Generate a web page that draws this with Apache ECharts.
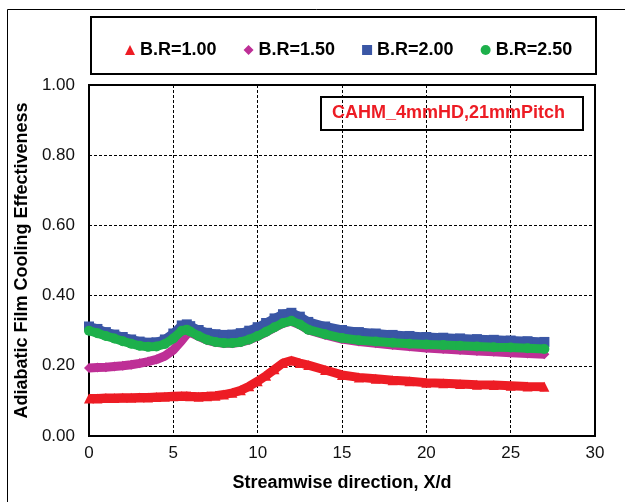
<!DOCTYPE html>
<html>
<head>
<meta charset="utf-8">
<script src="https://cdn.jsdelivr.net/npm/echarts@6/dist/echarts.min.js"></script>
<style>
  html, body { margin: 0; padding: 0; background: #fff; }
  #chart { width: 625px; height: 502px; }
</style>
</head>
<body>
<div id="chart"></div>
<script>
// Streamwise positions X/d where effectiveness is sampled
const xd = [0, 0.5, 1, 1.5, 2, 2.5, 3, 3.5, 4, 4.5, 5, 5.5, 5.8, 6, 6.5, 7, 7.5, 8, 8.5, 9, 9.5,
  10, 10.5, 11, 11.5, 12, 12.5, 13, 14, 15, 16, 17, 18, 19, 20, 21, 22, 23, 24, 25, 26, 27];

// Laterally averaged adiabatic film cooling effectiveness per blowing ratio
const br100 = [0.107, 0.107, 0.108, 0.108, 0.109, 0.109, 0.110, 0.110, 0.111, 0.112, 0.113, 0.114, 0.114, 0.113, 0.112, 0.113, 0.115, 0.118, 0.123, 0.130, 0.142,
  0.156, 0.172, 0.190, 0.208, 0.215, 0.208, 0.202, 0.188, 0.174, 0.167, 0.163, 0.159, 0.156, 0.152, 0.150, 0.148, 0.146, 0.145, 0.143, 0.141, 0.140];
const br150 = [0.194, 0.195, 0.196, 0.198, 0.200, 0.203, 0.207, 0.212, 0.218, 0.228, 0.245, 0.272, 0.290, 0.295, 0.284, 0.273, 0.267, 0.264, 0.264, 0.267, 0.274,
  0.284, 0.296, 0.309, 0.321, 0.327, 0.317, 0.302, 0.288, 0.276, 0.269, 0.264, 0.259, 0.255, 0.251, 0.248, 0.245, 0.242, 0.240, 0.237, 0.235, 0.233];
const br200 = [0.312, 0.305, 0.296, 0.289, 0.282, 0.275, 0.269, 0.266, 0.267, 0.275, 0.292, 0.315, 0.318, 0.313, 0.302, 0.294, 0.290, 0.288, 0.289, 0.293, 0.300,
  0.310, 0.322, 0.335, 0.347, 0.351, 0.340, 0.325, 0.312, 0.302, 0.296, 0.292, 0.288, 0.285, 0.282, 0.280, 0.278, 0.276, 0.274, 0.272, 0.270, 0.268];
const br250 = [0.300, 0.293, 0.285, 0.278, 0.270, 0.263, 0.257, 0.254, 0.255, 0.262, 0.278, 0.300, 0.303, 0.298, 0.285, 0.274, 0.268, 0.265, 0.265, 0.268, 0.275,
  0.285, 0.297, 0.310, 0.322, 0.328, 0.318, 0.303, 0.290, 0.279, 0.273, 0.269, 0.266, 0.263, 0.261, 0.259, 0.257, 0.255, 0.253, 0.252, 0.250, 0.248];

const seriesNames = ['B.R=1.00', 'B.R=1.50', 'B.R=2.00', 'B.R=2.50'];
const seriesValues = [br100, br150, br200, br250];
const seriesColors = ['#ED1C24', '#BE2F96', '#3A56A5', '#1DB04B'];
const seriesSymbols = ['triangle', 'diamond', 'rect', 'circle'];

const yTicks = { min: 0, max: 1, interval: 0.2 };
const xTicks = { min: 0, max: 30, interval: 5 };

const annotation = 'CAHM_4mmHD,21mmPitch';

const chart = echarts.init(document.getElementById('chart'), null, { renderer: 'canvas' });

const font = 'Liberation Sans, Arial, sans-serif';

const series = seriesNames.map((name, i) => ({
  name: name,
  type: 'line',
  data: xd.map((x, k) => [x, seriesValues[i][k]]),
  symbol: seriesSymbols[i],
  symbolSize: 10,
  showSymbol: true,
  lineStyle: { color: seriesColors[i], width: 9 },
  itemStyle: { color: seriesColors[i] },
  emphasis: { disabled: true },
  z: 2 + i
}));

chart.setOption({
  animation: false,
  backgroundColor: '#fff',
  grid: {
    left: 89, right: 30, top: 85, bottom: 66,
    show: true, borderColor: '#000', borderWidth: 2
  },
  legend: {
    left: 120, top: 36,
    itemWidth: 10, itemHeight: 10, itemGap: 27,
    textStyle: { fontFamily: font, fontWeight: 'bold', fontSize: 18, color: '#000' },
    data: seriesNames.map((n, i) => ({ name: n, icon: seriesSymbols[i] }))
  },
  xAxis: {
    type: 'value',
    min: xTicks.min, max: xTicks.max, interval: xTicks.interval,
    name: 'Streamwise direction, X/d',
    nameLocation: 'middle', nameGap: 38,
    nameTextStyle: { fontFamily: font, fontWeight: 'bold', fontSize: 18, color: '#000' },
    axisLine: { lineStyle: { color: '#000', width: 2 } },
    axisTick: { show: false },
    axisLabel: { fontFamily: font, fontSize: 17, color: '#111', margin: 9 },
    splitLine: { lineStyle: { color: '#000', width: 1, type: [3, 2] } }
  },
  yAxis: {
    type: 'value',
    min: yTicks.min, max: yTicks.max, interval: yTicks.interval,
    name: 'Adiabatic Film Cooling Effectiveness',
    nameLocation: 'middle', nameGap: 50,
    nameTextStyle: { fontFamily: font, fontWeight: 'bold', fontSize: 18, color: '#000' },
    axisLine: { lineStyle: { color: '#000', width: 2 } },
    axisTick: { show: false },
    axisLabel: { fontFamily: font, fontSize: 17, color: '#111', margin: 14, formatter: v => v.toFixed(2) },
    splitLine: { lineStyle: { color: '#000', width: 1, type: [3, 2] } }
  },
  graphic: [
    // outer frame
    { type: 'rect', shape: { x: 7.5, y: 9.5, width: 700, height: 700 }, style: { fill: null, stroke: '#000', lineWidth: 1 }, silent: true },
    // legend frame
    { type: 'rect', shape: { x: 91, y: 17, width: 505, height: 57 }, style: { fill: null, stroke: '#000', lineWidth: 2 }, silent: true },
    // configuration label
    { type: 'rect', shape: { x: 321, y: 97, width: 262, height: 33 }, style: { fill: null, stroke: '#000', lineWidth: 2 }, silent: true, z: 10 },
    { type: 'text', left: 332, top: 104, z: 10, style: { text: annotation, fill: '#ED1C24', font: 'bold 18px ' + font } }
  ],
  series: series
});
</script>
</body>
</html>
